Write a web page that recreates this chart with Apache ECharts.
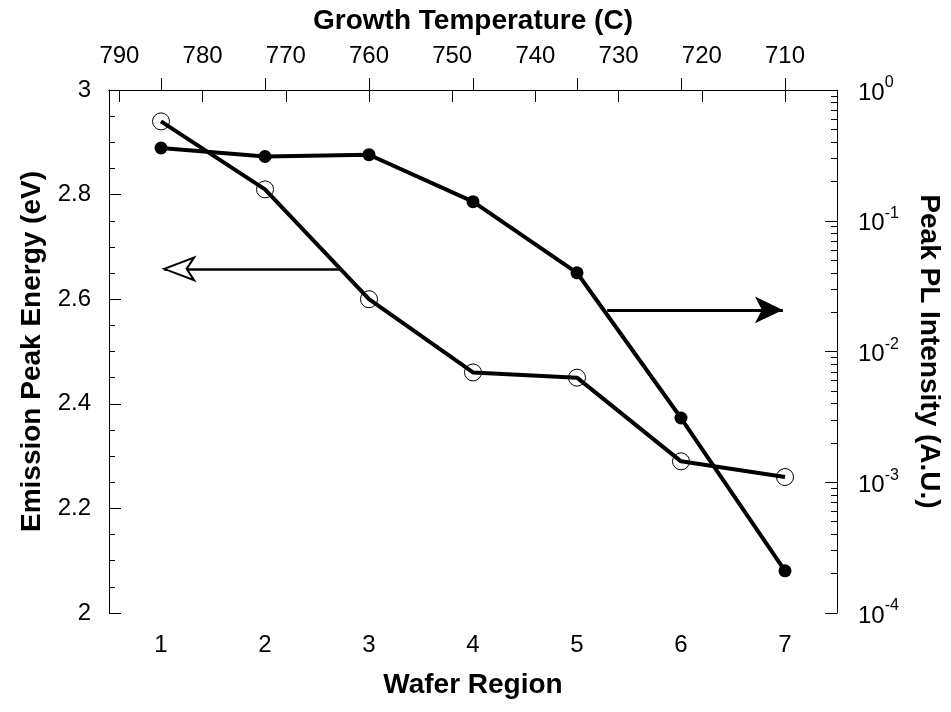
<!DOCTYPE html>
<html>
<head>
<meta charset="utf-8">
<script src="https://cdn.jsdelivr.net/npm/echarts@6/dist/echarts.min.js"></script>
<style>
  html, body { margin: 0; padding: 0; background: #fff; }
  #chart { width: 951px; height: 712px; }
</style>
</head>
<body>
<div id="chart"></div>
<script>
// wafer regions (bottom axis) and growth temperature labels (top axis)
const regions = [1, 2, 3, 4, 5, 6, 7]
const temps = [790, 780, 770, 760, 750, 740, 730, 720, 710]
// emission peak energy (eV), open circles, left axis
const energy = [2.94, 2.81, 2.60, 2.46, 2.45, 2.29, 2.26]
// peak PL intensity (A.U.), filled circles, right log axis
const intensity = [0.36, 0.31, 0.32, 0.14, 0.040, 0.0031, 0.00021]
// decade labels of the log axis
const decades = [1e-4, 1e-3, 1e-2, 1e-1, 1]

const font = 'Liberation Sans'
const black = '#000'

// minor ticks of the log axis (2..9 in each decade), in log10 space
const minorTicks = []
for (let n = -4; n < 0; n++) {
  for (let k = 2; k <= 9; k++) minorTicks.push(n + Math.log10(k))
}

const tickLabel = { color: black, fontFamily: font, fontSize: 24 }
const axisName = { color: black, fontFamily: font, fontSize: 28, fontWeight: 'bold' }
const line = { show: true, lineStyle: { color: black, width: 1 } }

const myChart = echarts.init(document.getElementById('chart'))
myChart.setOption({
  animation: false,
  backgroundColor: '#fff',
  grid: { left: 109, right: 112, top: 90, bottom: 99 },
  xAxis: [
    {
      type: 'value',
      position: 'bottom',
      min: 0.5,
      max: 7.5,
      name: 'Wafer Region',
      nameLocation: 'middle',
      nameGap: 58,
      nameTextStyle: axisName,
      axisLine: line,
      axisTick: { inside: true, length: 12, customValues: regions, lineStyle: { color: black } },
      axisLabel: { ...tickLabel, margin: 20, customValues: regions },
      splitLine: { show: false }
    },
    {
      type: 'value',
      position: 'top',
      inverse: true,
      min: 703.75,
      max: 791.25,
      name: 'Growth Temperature (C)',
      nameLocation: 'middle',
      nameGap: 55,
      nameTextStyle: axisName,
      axisLine: line,
      axisTick: { inside: true, length: 12, customValues: temps, lineStyle: { color: black } },
      axisLabel: { ...tickLabel, margin: 22, customValues: temps },
      splitLine: { show: false }
    }
  ],
  yAxis: [
    {
      type: 'value',
      position: 'left',
      min: 2,
      max: 3,
      interval: 0.2,
      name: 'Emission Peak Energy (eV)',
      nameLocation: 'middle',
      nameRotate: 90,
      nameGap: 62,
      nameTextStyle: axisName,
      axisLine: line,
      axisTick: { inside: true, length: 12, lineStyle: { color: black } },
      minorTick: { show: true, splitNumber: 4, length: 6, lineStyle: { color: black } },
      axisLabel: { ...tickLabel, margin: 18 },
      splitLine: { show: false },
      minorSplitLine: { show: false }
    },
    {
      type: 'log',
      logBase: 10,
      position: 'right',
      min: 1e-4,
      max: 1,
      name: 'Peak PL Intensity (A.U.)',
      nameLocation: 'middle',
      nameRotate: -90,
      nameGap: 78,
      nameTextStyle: axisName,
      axisLine: line,
      axisTick: { inside: true, length: 12, customValues: decades, lineStyle: { color: black } },
      axisLabel: {
        margin: 21,
        customValues: decades,
        formatter: function (v) {
          return '{b|10}{s|' + Math.round(Math.log10(v)) + '}'
        },
        rich: {
          b: { ...tickLabel, verticalAlign: 'bottom', lineHeight: 30 },
          s: { color: black, fontFamily: font, fontSize: 16, verticalAlign: 'top', lineHeight: 30 }
        }
      },
      splitLine: { show: false }
    },
    {
      // only carries the minor ticks of the log axis
      type: 'value',
      position: 'right',
      min: -4,
      max: 0,
      axisLine: { show: false },
      axisTick: { inside: true, length: 6, customValues: minorTicks, lineStyle: { color: black } },
      axisLabel: { show: false },
      splitLine: { show: false }
    }
  ],
  series: [
    {
      name: 'Emission Peak Energy',
      type: 'line',
      xAxisIndex: 0,
      yAxisIndex: 0,
      data: regions.map((r, i) => [r, energy[i]]),
      symbol: 'circle',
      symbolSize: 17,
      itemStyle: { color: 'rgba(0,0,0,0)', borderColor: black, borderWidth: 1 },
      lineStyle: { color: black, width: 4 },
      z: 3,
      markLine: {
        silent: true,
        symbol: ['none', 'emptyArrow'],
        symbolSize: [17, 30],
        label: { show: false },
        lineStyle: { color: black, width: 2.5, type: 'solid' },
        data: [[{ coord: [2.72, 2.658] }, { coord: [1.03, 2.658] }]]
      }
    },
    {
      name: 'Peak PL Intensity',
      type: 'line',
      xAxisIndex: 0,
      yAxisIndex: 1,
      data: regions.map((r, i) => [r, intensity[i]]),
      symbol: 'circle',
      symbolSize: 13,
      itemStyle: { color: black },
      lineStyle: { color: black, width: 4 },
      z: 2,
      markLine: {
        silent: true,
        symbol: ['none', 'arrow'],
        symbolSize: [20, 28],
        label: { show: false },
        lineStyle: { color: black, width: 3, type: 'solid' },
        data: [[{ coord: [5.29, 0.0208] }, { coord: [6.98, 0.0208] }]]
      }
    }
  ]
})
</script>
</body>
</html>
